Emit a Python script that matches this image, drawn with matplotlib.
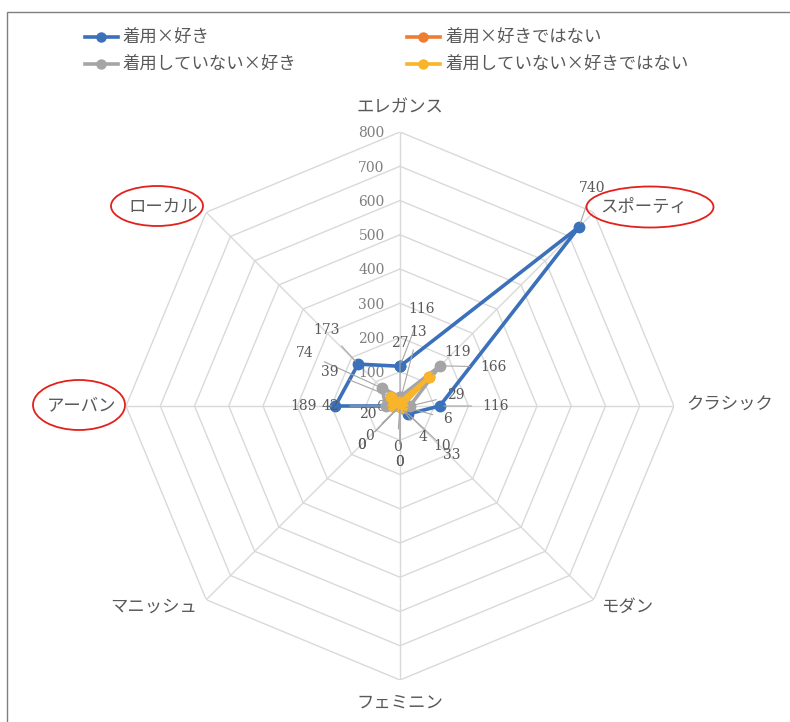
import numpy as np
import matplotlib
matplotlib.use("Agg")
import matplotlib.pyplot as plt
from matplotlib.lines import Line2D
from matplotlib.patches import Ellipse, Rectangle

plt.rcParams['font.family'] = ['Noto Sans CJK JP', 'DejaVu Sans']

# ---------------- data ----------------
categories = ['エレガンス', 'スポーティ', 'クラシック', 'モダン',
              'フェミニン', 'マニッシュ', 'アーバン', 'ローカル']
series_names = ['着用×好き', '着用×好きではない', '着用していない×好き', '着用していない×好きではない']
worn_like = [116, 740, 116, 33, 0, 0, 189, 173]
worn_dislike = [13, 119, 6, 4, 0, 0, 20, 39]
notworn_like = [27, 166, 29, 10, 0, 0, 42, 74]
notworn_dislike = [13, 119, 6, 4, 0, 0, 20, 39]
radial_ticks = [0, 100, 200, 300, 400, 500, 600, 700, 800]
highlighted = ['ローカル', 'スポーティ', 'アーバン']

# ---------------- style ----------------
W, H = 790, 722
colors = ['#3B70BA', '#ED7D31', '#A5A5A8', '#F9B52A']
txt_col = '#595959'
grid_col = '#D9D9D9'

def fx(x):
    return x / W

def fy(y):
    return 1 - y / H

fig = plt.figure(figsize=(W / 100, H / 100), dpi=100)
fig.patch.set_facecolor('white')

# chart border
fig.patches.append(Rectangle((fx(7), fy(760)), 2.0, fy(12) - fy(760), transform=fig.transFigure,
                             fill=False, edgecolor='#7F7F7F', lw=1.0))

cx, cy, R = 400, 406, 274
ax = fig.add_axes([fx(cx - R), fy(cy + R), 2 * R / W, 2 * R / H], projection='polar')
ax.set_theta_offset(np.pi / 2)
ax.set_theta_direction(-1)
ax.set_ylim(0, 800)
ax.set_axis_off()

n = len(categories)
theta = np.arange(n) * 2 * np.pi / n
tclosed = np.append(theta, theta[0])

# octagonal grid
for r in radial_ticks[1:]:
    ax.plot(tclosed, [r] * (n + 1), color=grid_col, lw=1.0, zorder=1)
for t in theta:
    ax.plot([t, t], [0, radial_ticks[-1]], color=grid_col, lw=1.0, zorder=1)

# radial tick labels
for r in radial_ticks:
    ax.annotate(str(r), xy=(0, r), xytext=(-11, -1), textcoords='offset points',
                ha='right', va='center', fontsize=10, color='#7F7F7F',
                family='DejaVu Serif', zorder=2)

# series
all_series = [worn_like, worn_dislike, notworn_like, notworn_dislike]
handles = []
for vals, col, name, z in zip(all_series, colors, series_names, [5, 6, 7, 8]):
    v = list(vals) + [vals[0]]
    ax.plot(tclosed, v, color=col, lw=2.6, marker='o', ms=7.5, zorder=z,
            solid_joinstyle='round', clip_on=False)
    handles.append(Line2D([0], [0], color=col, lw=2.6, marker='o', ms=6.5))

# data labels (label positions in pixels from top-left); orange labels are hidden in the reference
label_pos = [
    [(422, 309), (592, 188), (496, 406), (452, 455), (400, 462), (362, 445), (303, 406), (327, 330)],
    None,
    [(400, 343), (494, 367), (456, 395), (442, 446), (397, 447), (369, 436), (330, 406), (305, 353)],
    [(418, 332), (458, 352), (448, 419), (423, 437), (400, 462), (362, 445), (368, 414), (330, 372)],
]
for vals, poss in zip(all_series, label_pos):
    if poss is None:
        continue
    for t, v, (lx, ly) in zip(theta, vals, poss):
        ax.annotate(str(v), xy=(t, v), xycoords='data',
                    xytext=(fx(lx), fy(ly)), textcoords='figure fraction',
                    ha='center', va='center', fontsize=10, color=txt_col,
                    family='DejaVu Serif', zorder=10, annotation_clip=False,
                    arrowprops=dict(arrowstyle='-', color='#A6A6A6', lw=0.8,
                                    shrinkA=6, shrinkB=3))

# category labels
cat_pos = {
    'エレガンス': (400, 107, 'center'),
    'スポーティ': (600, 207, 'left'),
    'クラシック': (686, 405, 'left'),
    'モダン': (601, 607, 'left'),
    'フェミニン': (400, 703, 'center'),
    'マニッシュ': (197, 607, 'right'),
    'アーバン': (116, 405, 'right'),
    'ローカル': (198, 207, 'right'),
}
for c in categories:
    x, y, ha = cat_pos[c]
    fig.text(fx(x), fy(y), c, ha=ha, va='center', fontsize=12.5, color=txt_col)

# red ellipses
ell = {'ローカル': (157, 206, 92, 40), 'スポーティ': (650, 207, 127, 41), 'アーバン': (79, 405, 92, 50)}
for c in highlighted:
    x, y, w, h = ell[c]
    fig.patches.append(Ellipse((fx(x), fy(y)), w / W, h / H, transform=fig.transFigure,
                               fill=False, edgecolor='#E3201B', lw=1.3))

# legend
order = [0, 2, 1, 3]
fig.legend([handles[i] for i in order], [series_names[i] for i in order],
           loc='upper left', bbox_to_anchor=(fx(69), fy(13)), ncol=2, frameon=False,
           fontsize=12.5, handlelength=1.9, handletextpad=0.3, columnspacing=6.35,
           labelspacing=0.55, labelcolor=txt_col)

fig.savefig('out.png', dpi=100)
